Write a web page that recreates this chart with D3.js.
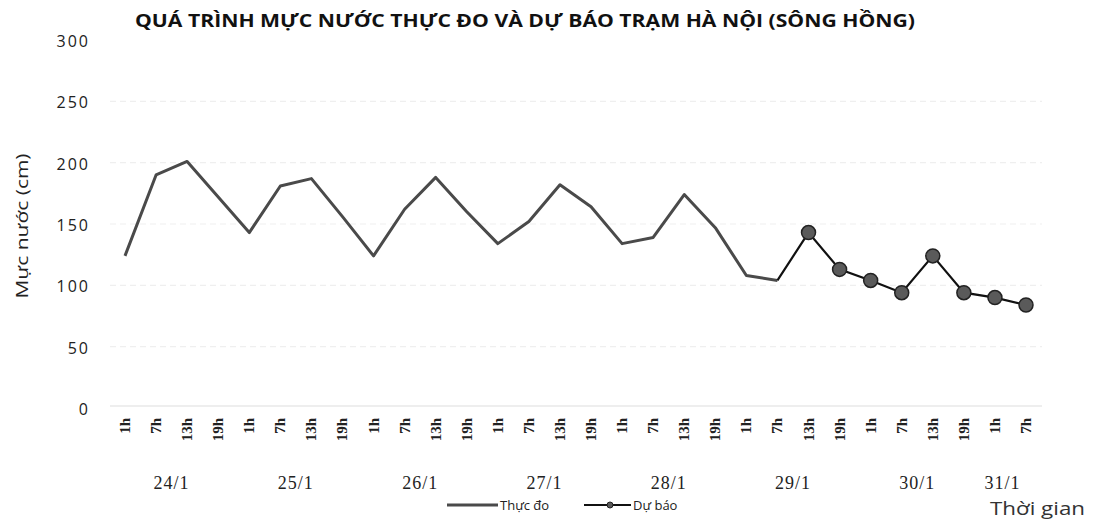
<!DOCTYPE html>
<html><head><meta charset="utf-8">
<script src="https://cdn.jsdelivr.net/npm/d3@7"></script>
<style>body{margin:0;background:#fff}svg{display:block}</style>
</head><body>
<svg id="c" width="1094" height="520"></svg>
<script>
const days = ["24/1","25/1","26/1","27/1","28/1","29/1","30/1","31/1"];
const hours = ["1h","7h","13h","19h"];
const hoursPerDay = [4,4,4,4,4,4,4,2];
const observed = [124,190,201,172,143,181,187,156,124,162,188,160,134,152,182,164,134,139,174,147,108,104];
const forecast = [143,113,104,94,124,94,90,84];
const yTicks = [0,50,100,150,200,250,300];

const cats = [];
days.forEach((d,i)=>{ for(let k=0;k<hoursPerDay[i];k++) cats.push({day:d, hour:hours[k], id:d+"-"+hours[k]}); });

const svg = d3.select("#c");
const L = 110, R = 1042, T = 40, B = 408;
const x = d3.scalePoint().domain(cats.map(c=>c.id)).range([125,1026]);
const y = d3.scaleLinear().domain([0,300]).range([B,T]);

// gridlines
svg.append("g").selectAll("line").data(yTicks.filter(v=>v>0 && v<300)).join("line")
  .attr("x1",L).attr("x2",R).attr("y1",d=>y(d)).attr("y2",d=>y(d))
  .attr("stroke","#efefef").attr("stroke-width",1.2).attr("stroke-dasharray","6,4");
svg.append("line").attr("x1",L).attr("x2",R).attr("y1",y(0)-2).attr("y2",y(0)-2)
  .attr("stroke","#e8e8e8").attr("stroke-width",1.5);

// y axis labels
const yAxis = d3.axisLeft(y).tickValues(yTicks).tickSize(0).tickPadding(0);
const gy = svg.append("g").attr("transform","translate(90,0)").call(yAxis);
gy.select(".domain").remove();
gy.selectAll("text").attr("font-family","'Open Sans',sans-serif").attr("font-size",16).attr("fill","#222")
  .attr("letter-spacing",2).attr("dy","0.4em");

// x tick labels
const gx = svg.append("g").attr("transform","translate(0,418)");
gx.selectAll("text").data(cats).join("text")
  .attr("transform",d=>`translate(${x(d.id)+5},0) rotate(-90)`)
  .attr("text-anchor","end")
  .attr("font-family","'Liberation Serif',serif").attr("font-weight","bold").attr("font-size",15).attr("fill","#222")
  .text(d=>d.hour);

// day labels
const dayCenters = days.map(d=>{
  const ids = cats.filter(c=>c.day===d).map(c=>x(c.id));
  return {day:d, cx:(d3.min(ids)+d3.max(ids))/2};
});
svg.append("g").selectAll("text").data(dayCenters).join("text")
  .attr("x",d=>d.day==="31/1"? d.cx-8 : d.cx).attr("y",489).attr("text-anchor","middle")
  .attr("font-family","'Liberation Serif',serif").attr("font-size",18).attr("letter-spacing",1).attr("fill","#222")
  .text(d=>d.day);

// observed line
const obsPts = observed.map((v,i)=>[x(cats[i].id), y(v)]);
svg.append("path").attr("d",d3.line()(obsPts)).attr("fill","none")
  .attr("stroke","#4a4a4a").attr("stroke-width",3).attr("stroke-linejoin","round");

// forecast line
const start = observed.length;
const fcPts = forecast.map((v,i)=>[x(cats[start+i].id), y(v)]);
svg.append("path").attr("d",d3.line()([obsPts[obsPts.length-1], ...fcPts])).attr("fill","none")
  .attr("stroke","#111").attr("stroke-width",2.2);
svg.append("g").selectAll("circle").data(fcPts).join("circle")
  .attr("cx",d=>d[0]).attr("cy",d=>d[1]).attr("r",7)
  .attr("fill","#5a5a5a").attr("stroke","#222").attr("stroke-width",1.5);

// title
svg.append("text").attr("x",135).attr("y",27)
  .attr("font-family","'Open Sans',sans-serif").attr("font-weight","bold").attr("font-size",18).attr("fill","#111")
  .attr("textLength",780).attr("lengthAdjust","spacingAndGlyphs")
  .text("QUÁ TRÌNH MỰC NƯỚC THỰC ĐO VÀ DỰ BÁO TRẠM HÀ NỘI (SÔNG HỒNG)");

// y title
svg.append("text").attr("transform","translate(28,226) rotate(-90)").attr("text-anchor","middle")
  .attr("font-family","'Open Sans',sans-serif").attr("font-size",17).attr("fill","#222")
  .attr("textLength",145).attr("lengthAdjust","spacingAndGlyphs")
  .text("Mực nước (cm)");

// x title
svg.append("text").attr("x",990).attr("y",515)
  .attr("font-family","'Open Sans',sans-serif").attr("font-size",18).attr("fill","#333")
  .attr("textLength",95).attr("lengthAdjust","spacingAndGlyphs")
  .text("Thời gian");

// legend
const lg = svg.append("g");
lg.append("line").attr("x1",447).attr("x2",498).attr("y1",505).attr("y2",505).attr("stroke","#4a4a4a").attr("stroke-width",3);
lg.append("text").attr("x",500).attr("y",510).attr("font-family","'Open Sans',sans-serif").attr("font-size",13).attr("fill","#222").text("Thực đo");
lg.append("line").attr("x1",584).attr("x2",631).attr("y1",505).attr("y2",505).attr("stroke","#111").attr("stroke-width",2);
lg.append("circle").attr("cx",610).attr("cy",505).attr("r",3).attr("fill","#5a5a5a").attr("stroke","#222");
lg.append("text").attr("x",633).attr("y",510).attr("font-family","'Open Sans',sans-serif").attr("font-size",13).attr("fill","#222").text("Dự báo");
</script>
</body></html>
